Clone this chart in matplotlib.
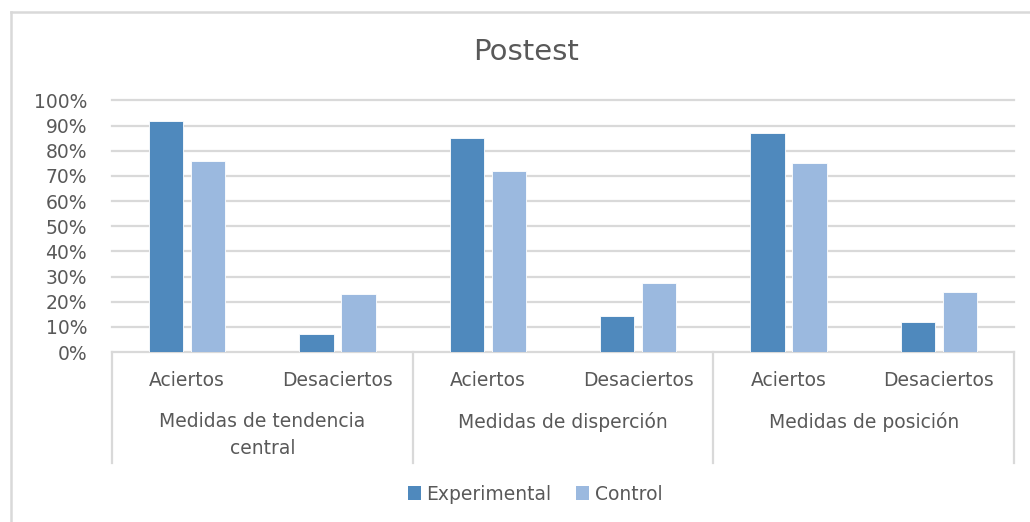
import matplotlib
matplotlib.use("Agg")
import matplotlib.pyplot as plt
import numpy as np
from matplotlib.lines import Line2D
from matplotlib.patches import Patch

# Data (proportions)
groups = ["Medidas de tendencia\ncentral", "Medidas de disperción", "Medidas de posición"]
subcats = ["Aciertos", "Desaciertos"]
experimental = [0.92, 0.07, 0.85, 0.145, 0.87, 0.12]
control = [0.76, 0.23, 0.72, 0.275, 0.75, 0.24]
series_names = ["Experimental", "Control"]
yticks = [0, 0.1, 0.2, 0.3, 0.4, 0.5, 0.6, 0.7, 0.8, 0.9, 1.0]
ytick_labels = [f"{int(round(v * 100))}%" for v in yticks]

c_exp = "#4F89BD"
c_ctl = "#9BB9DF"
grid_c = "#D9D9D9"
text_c = "#595959"

plt.rcParams["font.family"] = ["DejaVu Sans"]

W, H = 1030, 522
fig = plt.figure(figsize=(W / 100, H / 100), dpi=100)
fig.patch.set_facecolor("white")

left, right, bottom, top = 112, 1014, 352, 100.5
ax = fig.add_axes([left / W, 1 - bottom / H, (right - left) / W, (bottom - top) / H])


def px_to_axes_y(py):
    return -(py - bottom) / (bottom - top)


n = len(experimental)
x = np.arange(n) + 0.5
bw = 0.227
off = 0.14
ax.bar(x - off, experimental, bw, color=c_exp, edgecolor="white", linewidth=0.6, zorder=3)
ax.bar(x + off, control, bw, color=c_ctl, edgecolor="white", linewidth=0.6, zorder=3)

ax.set_xlim(0, n)
ax.set_ylim(0, 1)
ax.set_yticks(yticks)
ax.set_yticklabels(ytick_labels)
ax.tick_params(axis="y", length=0, pad=18, labelsize=13.5, labelcolor=text_c)
ax.set_xticks([])
for yv in yticks[1:]:
    ax.axhline(yv, color=grid_c, lw=1.6, zorder=1, clip_on=False)
for s in ["top", "right", "left"]:
    ax.spines[s].set_visible(False)
ax.spines["bottom"].set_color(grid_c)
ax.spines["bottom"].set_linewidth(1.6)

# multi-level category axis
trans = ax.get_xaxis_transform()
for gx in range(0, n + 1, 2):
    ax.add_line(Line2D([gx, gx], [0, px_to_axes_y(463)], transform=trans, color=grid_c,
                       lw=1.6, clip_on=False))
for i, xi in enumerate(x):
    ax.text(xi, px_to_axes_y(381), subcats[i % 2], transform=trans, ha="center",
            va="center", fontsize=13.5, color=text_c)
for g, name in enumerate(groups):
    ax.text(2 * g + 1, px_to_axes_y(412), name, transform=trans, ha="center", va="top",
            fontsize=13.5, color=text_c, linespacing=1.5)

fig.text(526 / W, 1 - 52 / H, "Postest", ha="center", va="center", fontsize=21, color=text_c)

handles = [Patch(facecolor=c_exp, edgecolor="none"), Patch(facecolor=c_ctl, edgecolor="none")]
fig.legend(handles, series_names, loc="center", bbox_to_anchor=(535 / W, 1 - 494 / H),
           ncol=2, frameon=False, handlelength=0.7, handleheight=0.7, handletextpad=0.3,
           columnspacing=1.3, fontsize=13.5, labelcolor=text_c)

# chart frame
fig.add_artist(Line2D([11 / W, 11 / W], [0, 1 - 12 / H], transform=fig.transFigure,
                      color=grid_c, lw=1.8))
fig.add_artist(Line2D([11 / W, 1], [1 - 12 / H, 1 - 12 / H], transform=fig.transFigure,
                      color=grid_c, lw=1.8))

fig.savefig("out.png", dpi=100, facecolor="white")
